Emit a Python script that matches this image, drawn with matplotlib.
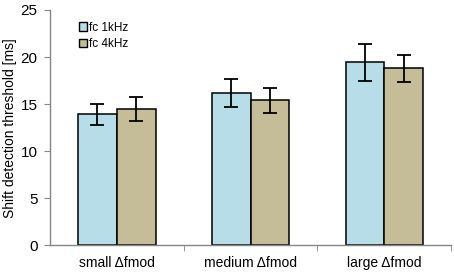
import numpy as np
import matplotlib
matplotlib.use("Agg")
from matplotlib import pyplot as plt
from matplotlib.patches import Patch

plt.rcParams['font.family'] = ['Liberation Sans', 'DejaVu Sans']

# data
categories = ['small \u0394fmod', 'medium \u0394fmod', 'large \u0394fmod']
fc1k_mean = [13.9, 16.2, 19.45]
fc1k_err = [1.15, 1.5, 1.95]
fc4k_mean = [14.5, 15.4, 18.8]
fc4k_err = [1.3, 1.3, 1.4]
series_names = ['fc 1kHz', 'fc 4kHz']
yticks = [0, 5, 10, 15, 20, 25]

blue = '#B7DDE8'
tan = '#C4BD97'
grey = '#868686'

fig = plt.figure(figsize=(4.54, 2.73), dpi=100)
ax = fig.add_axes([0.110, 0.1015, 0.884, 0.862])

x = np.arange(len(categories))
w = 0.29
ax.bar(x - w / 2, fc1k_mean, w, color=blue, edgecolor='black', linewidth=1.1,
       yerr=fc1k_err, error_kw=dict(ecolor='black', elinewidth=1.3, capsize=5, capthick=1.3))
ax.bar(x + w / 2, fc4k_mean, w, color=tan, edgecolor='black', linewidth=1.1,
       yerr=fc4k_err, error_kw=dict(ecolor='black', elinewidth=1.3, capsize=5, capthick=1.3))

ax.set_xlim(-0.5, 2.5)
ax.set_ylim(0, 25)
ax.set_yticks(yticks)
ax.set_xticks(x)
ax.set_xticklabels(categories, fontsize=10)
ax.set_xticks([0.5, 1.5, 2.5], minor=True)
ax.tick_params(axis='x', which='major', length=0, pad=8)
ax.tick_params(axis='x', which='minor', length=4, color=grey, direction='out')
ax.tick_params(axis='y', length=4, color=grey, labelsize=11, pad=5)
ax.set_ylabel('Shift detection threshold [ms]', fontsize=10)
ax.yaxis.set_label_coords(-0.082, 0.5)

for s in ['top', 'right']:
    ax.spines[s].set_visible(False)
for s in ['left', 'bottom']:
    ax.spines[s].set_color(grey)
    ax.spines[s].set_linewidth(1.0)

handles = [Patch(facecolor=blue, edgecolor='black', linewidth=1.0),
           Patch(facecolor=tan, edgecolor='black', linewidth=1.0)]
ax.legend(handles, series_names, loc='upper left', bbox_to_anchor=(0.06, 0.97),
          frameon=False, fontsize=8.5, handlelength=0.7, handleheight=0.7,
          handletextpad=0.2, labelspacing=0.4, borderaxespad=0)

fig.savefig('out.png', dpi=100)
